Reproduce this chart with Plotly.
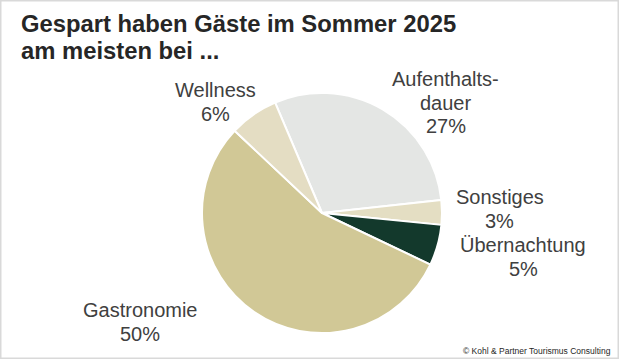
import plotly.graph_objects as go

categories = ["Aufenthaltsdauer", "Sonstiges", "Übernachtung", "Gastronomie", "Wellness"]
values = [27, 3, 5, 50, 6]
label_lines = [["Aufenthalts-", "dauer", "27%"], ["Sonstiges", "3%"], ["Übernachtung", "5%"],
               ["Gastronomie", "50%"], ["Wellness", "6%"]]
colors = ["#e4e6e4", "#e4dec3", "#13392c", "#d1c896", "#e4ddc3"]
title_lines = ["Gespart haben Gäste im Sommer 2025", "am meisten bei ..."]

W, H = 619, 359
# label anchor positions (pixels) of the first line of each outside label, and line step
label_px = [(446, 79), (500, 197), (523, 245), (140, 310), (215, 90)]
LINE = 23.5

fig = go.Figure(go.Pie(
    labels=categories, values=values, sort=False, direction="clockwise",
    rotation=-23, textinfo="none", hoverinfo="label+percent",
    marker=dict(colors=colors, line=dict(color="white", width=2)),
    domain=dict(x=[202 / W, 442 / W], y=[(H - 333) / H, (H - 93) / H]),
    showlegend=False,
))

for lines, (px, py) in zip(label_lines, label_px):
    for i, t in enumerate(lines):
        fig.add_annotation(x=px / W, y=1 - (py + i * LINE) / H, xref="paper", yref="paper",
                           text=t, showarrow=False, xanchor="center", yanchor="middle",
                           font=dict(family="Liberation Sans, Arial", size=20, color="#404040"))

for i, t in enumerate(title_lines):
    fig.add_annotation(x=19 / W, y=1 - (23 + i * 28) / H, xref="paper", yref="paper",
                       text="<b>" + t + "</b>",
                       showarrow=False, xanchor="left", yanchor="middle", align="left",
                       font=dict(family="Liberation Sans, Arial", size=23.8, color="#262626"))

fig.add_annotation(x=613 / W, y=1 - 351 / H, xref="paper", yref="paper",
                   text="© Kohl & Partner Tourismus Consulting",
                   showarrow=False, xanchor="right", yanchor="middle",
                   font=dict(family="Liberation Sans, Arial", size=8.5, color="#262626"))

fig.add_shape(type="rect", xref="paper", yref="paper", x0=0, y0=0, x1=1, y1=1,
              line=dict(color="#d9d9d9", width=3))

fig.update_layout(width=W, height=H, margin=dict(l=0, r=0, t=0, b=0),
                  paper_bgcolor="white", plot_bgcolor="white")

fig.write_html("out.html", config={"displayModeBar": False},
               post_script="document.body.style.margin='0';document.body.style.overflow='hidden';")
